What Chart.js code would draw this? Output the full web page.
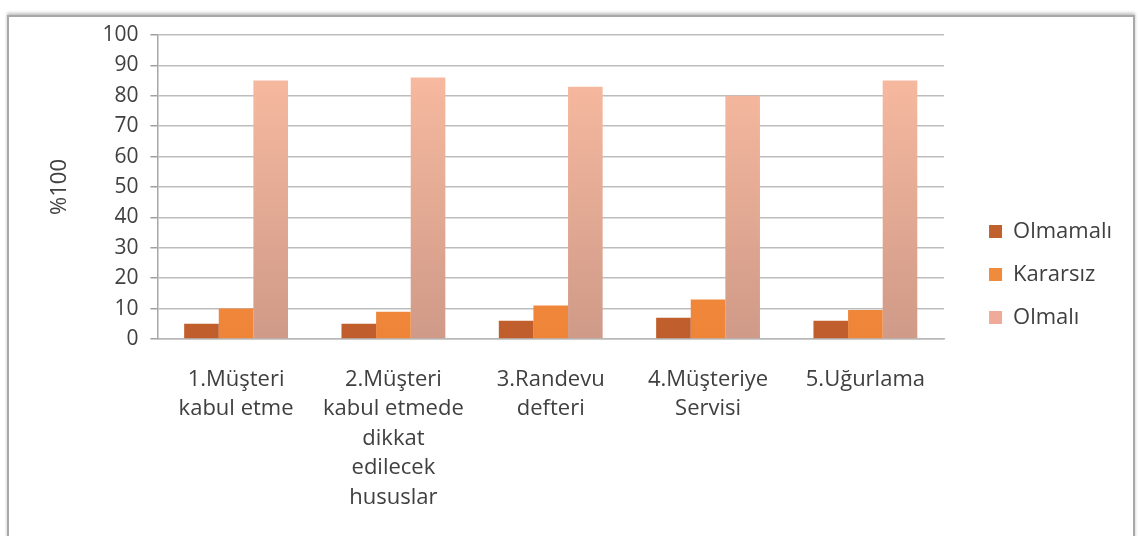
<!DOCTYPE html>
<html>
<head>
<meta charset="utf-8">
<script src="https://cdn.jsdelivr.net/npm/chart.js@4.4.1/dist/chart.umd.min.js"></script>
<style>
  html, body { margin: 0; padding: 0; background: #fff; }
  #wrap { position: relative; width: 1140px; height: 536px; overflow: hidden; }
  #frame { position: absolute; left: 7px; top: 15px; width: 1124px; height: 560px;
           border: 2px solid #a8a8a8; box-shadow: 0 -2px 3px rgba(0,0,0,0.25); }
  canvas { position: absolute; left: 0; top: 0; }
</style>
</head>
<body>
<div id="wrap">
  <div id="frame"></div>
  <canvas id="chart" width="1140" height="536"></canvas>
</div>
<script>
var categories = [
    ["1.Müşteri", "kabul etme"],
    ["2.Müşteri", "kabul etmede", "dikkat", "edilecek", "hususlar"],
    ["3.Randevu", "defteri"],
    ["4.Müşteriye", "Servisi"],
    ["5.Uğurlama"]
];
var olmamali = [5, 5, 6, 7, 6];
var kararsiz = [10, 9, 11, 13, 9.5];
var olmali = [85, 86, 83, 80, 85];
var yTicks = [0, 10, 20, 30, 40, 50, 60, 70, 80, 90, 100];

var FONT = "'Open Sans', sans-serif";
var TEXT = "#404040";

// vertical gradient per series, built once the chart area exists
function grad(top, bottom) {
    return function (ctx) {
        var area = ctx.chart.chartArea;
        if (!area) return bottom;
        var g = ctx.chart.ctx.createLinearGradient(0, area.top, 0, area.bottom);
        g.addColorStop(0, top);
        g.addColorStop(1, bottom);
        return g;
    };
}

var ctx = document.getElementById("chart").getContext("2d");
new Chart(ctx, {
    type: "bar",
    data: {
        labels: categories,
        datasets: [
            { label: "Olmamalı", data: olmamali, backgroundColor: grad("#d36a34", "#bf5e2c"), legendColor: "#c0602c" },
            { label: "Kararsız", data: kararsiz, backgroundColor: grad("#fb9a4c", "#ee8438"), legendColor: "#f08a3c" },
            { label: "Olmalı", data: olmali, backgroundColor: grad("#fdbea3", "#cf9a88"), legendColor: "#efaa9a" }
        ]
    },
    options: {
        responsive: false,
        animation: false,
        layout: { padding: { left: 43, right: 18, top: 35, bottom: 22 } },
        datasets: { bar: { categoryPercentage: 0.66, barPercentage: 1.0 } },
        plugins: {
            tooltip: { enabled: false },
            legend: {
                position: "right",
                labels: {
                    font: { family: FONT, size: 22 },
                    color: TEXT,
                    boxWidth: 13,
                    boxHeight: 13,
                    padding: 21,
                    generateLabels: function (chart) {
                        return chart.data.datasets.map(function (ds, i) {
                            return { text: ds.label, fillStyle: ds.legendColor, strokeStyle: ds.legendColor,
                                     lineWidth: 0, datasetIndex: i, fontColor: TEXT };
                        });
                    }
                }
            }
        },
        scales: {
            x: {
                grid: { display: false, drawTicks: false },
                border: { color: "#b8b8b8", width: 1.5 },
                afterFit: function (s) { s.height = 175; },
                ticks: { font: { family: FONT, size: 22, lineHeight: 1.34 }, color: TEXT, padding: 26, maxRotation: 0, autoSkip: false }
            },
            y: {
                min: 0, max: 100,
                afterBuildTicks: function (axis) { axis.ticks = yTicks.map(function (v) { return { value: v }; }); },
                grid: { color: "#bdbdbd", lineWidth: 1.5, tickLength: 7, tickColor: "#a0a0a0" },
                border: { color: "#a8a8a8", width: 1.5 },
                title: { display: true, text: "%100", font: { family: FONT, size: 22 }, color: TEXT, padding: { bottom: 17 } },
                ticks: { font: { family: FONT, size: 21 }, color: TEXT, padding: 12 }
            },
            // empty spacer between plot and legend
            gap: {
                type: "linear", position: "right", display: true,
                grid: { display: false }, border: { display: false }, ticks: { display: false },
                afterFit: function (s) { s.width = 24; }
            }
        }
    }
});
</script>
</body>
</html>
